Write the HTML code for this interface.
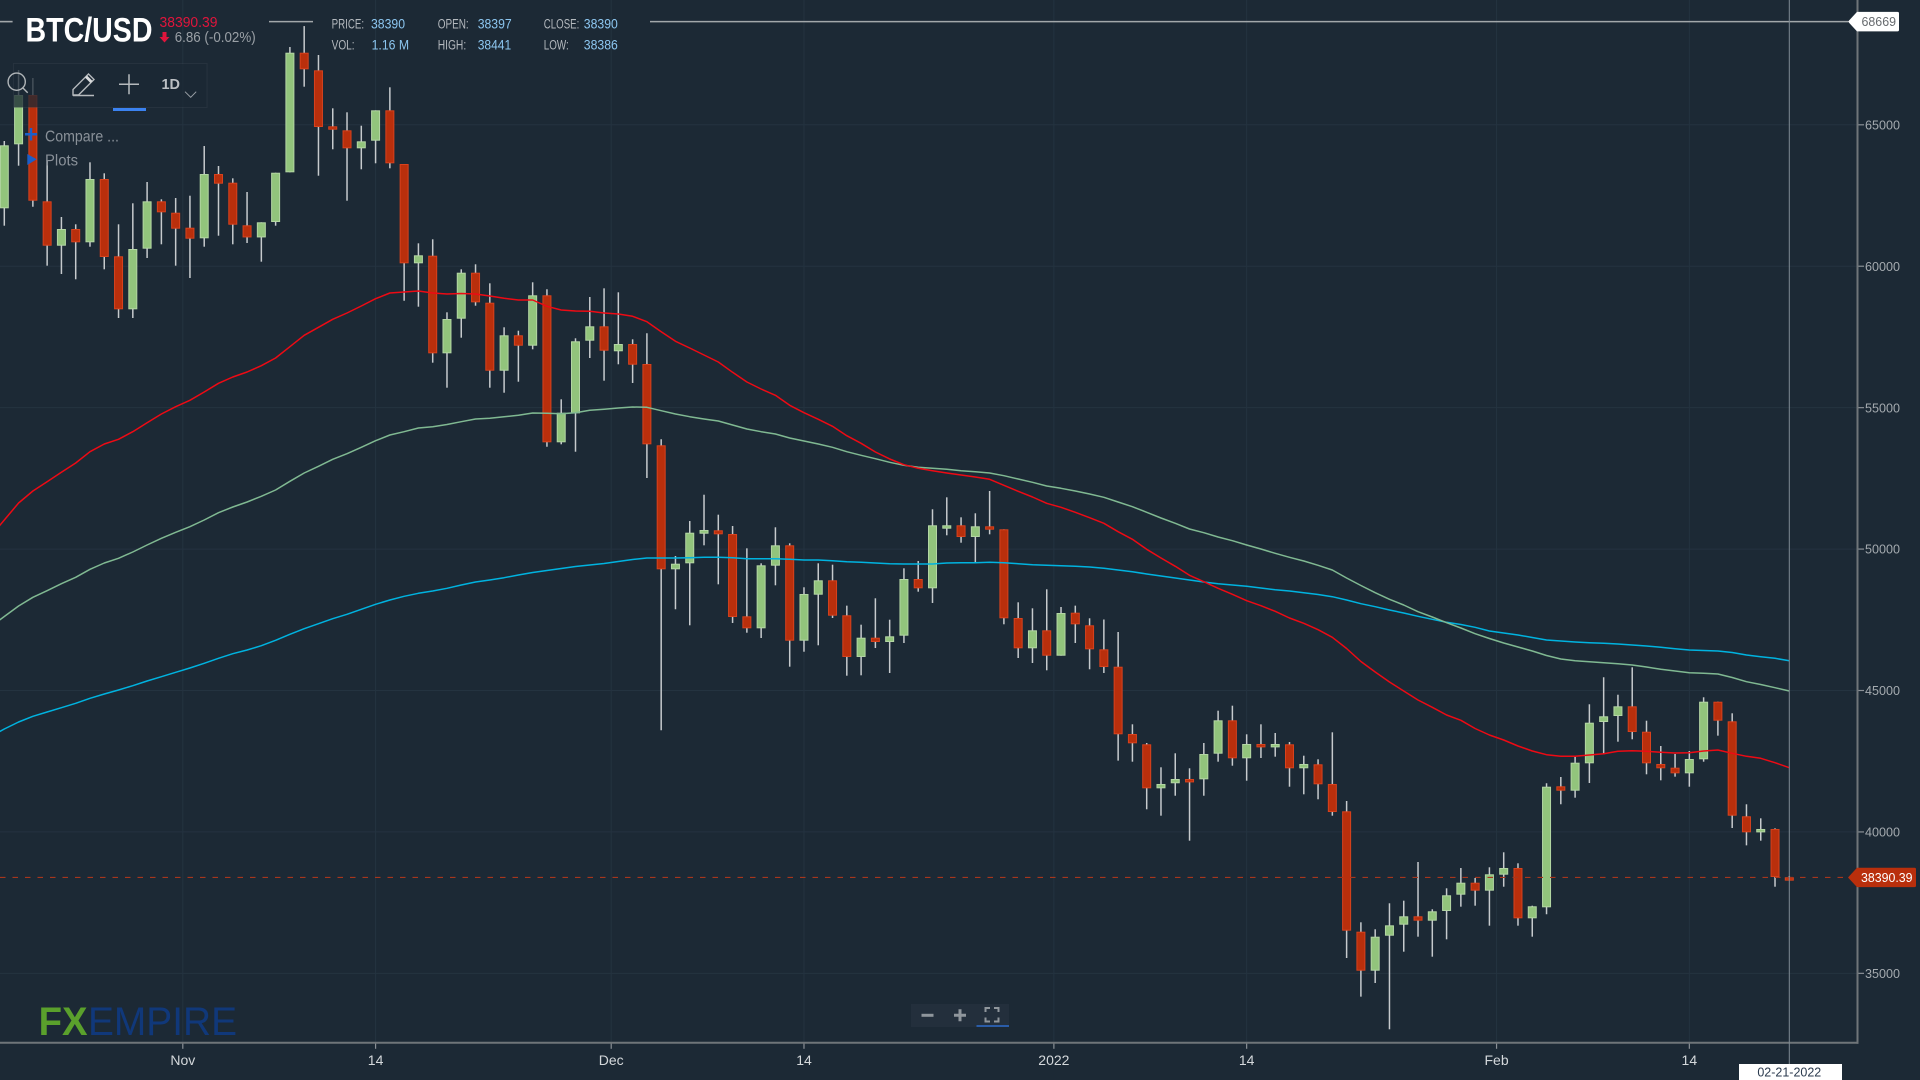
<!DOCTYPE html>
<html lang="en">
<head>
<meta charset="utf-8">
<title>BTC/USD Chart</title>
<style>
html,body{margin:0;padding:0;width:1920px;height:1080px;overflow:hidden;background:#1c2935;}
svg{display:block;position:absolute;left:0;top:0;}
text{font-family:"Liberation Sans",sans-serif;}
</style>
</head>
<body>
<svg id="chart" xmlns="http://www.w3.org/2000/svg" width="1920" height="1080" viewBox="0 0 1920 1080">
  <rect x="0" y="0" width="1920" height="1080" fill="#1c2935"/>
  <g id="grid"></g>
  <g id="high-line"></g>
  <g id="candles"></g>
  <g id="mas"></g>
  <g id="axes"></g>
  <g id="overlay"></g>

  <g>
    <text x="25.5" y="41.5" font-size="34" font-weight="bold" fill="#ffffff" textLength="127" lengthAdjust="spacingAndGlyphs">BTC/USD</text>
    <text x="159.5" y="26.8" font-size="14.5" fill="#e0153c" textLength="58" lengthAdjust="spacingAndGlyphs">38390.39</text>
    <path d="M162.5 32h4v5h3l-5 5.5-5-5.5h3z" fill="#e0153c"/>
    <text x="174.7" y="42" font-size="14.5" fill="#9aa0a6" textLength="81" lengthAdjust="spacingAndGlyphs">6.86 (-0.02%)</text>

    <text x="331.6" y="28.5" font-size="13.5" fill="#b4b9be" textLength="32.5" lengthAdjust="spacingAndGlyphs">PRICE:</text>
    <text x="371" y="28.5" font-size="13.5" fill="#8cc6f0" textLength="34" lengthAdjust="spacingAndGlyphs">38390</text>
    <text x="437.7" y="28.5" font-size="13.5" fill="#b4b9be" textLength="31" lengthAdjust="spacingAndGlyphs">OPEN:</text>
    <text x="477.7" y="28.5" font-size="13.5" fill="#8cc6f0" textLength="34" lengthAdjust="spacingAndGlyphs">38397</text>
    <text x="543.8" y="28.5" font-size="13.5" fill="#b4b9be" textLength="35.5" lengthAdjust="spacingAndGlyphs">CLOSE:</text>
    <text x="583.8" y="28.5" font-size="13.5" fill="#8cc6f0" textLength="34" lengthAdjust="spacingAndGlyphs">38390</text>
    <text x="331.6" y="49.5" font-size="13.5" fill="#b4b9be" textLength="23" lengthAdjust="spacingAndGlyphs">VOL:</text>
    <text x="371.6" y="49.5" font-size="13.5" fill="#8cc6f0" textLength="37.5" lengthAdjust="spacingAndGlyphs">1.16 M</text>
    <text x="437.7" y="49.5" font-size="13.5" fill="#b4b9be" textLength="28.5" lengthAdjust="spacingAndGlyphs">HIGH:</text>
    <text x="477.7" y="49.5" font-size="13.5" fill="#8cc6f0" textLength="33.5" lengthAdjust="spacingAndGlyphs">38441</text>
    <text x="543.8" y="49.5" font-size="13.5" fill="#b4b9be" textLength="25" lengthAdjust="spacingAndGlyphs">LOW:</text>
    <text x="583.8" y="49.5" font-size="13.5" fill="#8cc6f0" textLength="34" lengthAdjust="spacingAndGlyphs">38386</text>
  </g>

  <g>
    <rect x="13.5" y="63.5" width="193.5" height="44" fill="#1c2935" fill-opacity="0.76" stroke="#ffffff" stroke-opacity="0.05"/>
    <g fill="none" stroke="#b0b5b8" stroke-width="1.4">
      <circle cx="16.7" cy="81.7" r="8.6"/>
      <path d="M22.7 87.7l5 5"/>
    </g>
    <g fill="none" stroke="#b6babd" stroke-width="1.4">
      <path d="M73 95v-5.5L88.5 74l5.5 5.5L78.5 95z"/>
      <path d="M86 76.5l5.5 5.5" stroke-width="3" stroke="#d8dadc"/>
      <path d="M73 95.5h21"/>
    </g>
    <g stroke="#b6babd" stroke-width="1.5">
      <path d="M119 84.3h20M129 74.3v20"/>
    </g>
    <rect x="113" y="108" width="33" height="3" fill="#3b82f0"/>
    <text x="161.5" y="89" font-size="15" font-weight="bold" fill="#bcc0c4" textLength="18.5" lengthAdjust="spacingAndGlyphs">1D</text>
    <path d="M185 91.7l5.7 5.6 5.5-5.6" fill="none" stroke="#9aa0a6" stroke-width="1"/>
    <path d="M25 134.3h12M31 128v12.5" stroke="#1c5fc8" stroke-width="2.5"/>
    <text x="45" y="141.5" font-size="15.5" fill="#8a9199" textLength="74" lengthAdjust="spacingAndGlyphs">Compare ...</text>
    <path d="M27.3 154l9.4 5.3-9.4 5.7z" fill="#1c5fc8"/>
    <text x="45" y="165.3" font-size="15.5" fill="#8a9199" textLength="33" lengthAdjust="spacingAndGlyphs">Plots</text>
  </g>

  <g>
    <text x="38.6" y="1035" font-size="40" font-weight="bold" fill="#5aa02c" textLength="49" lengthAdjust="spacingAndGlyphs">FX</text>
    <text x="88" y="1035" font-size="40" fill="#10387a" textLength="149" lengthAdjust="spacingAndGlyphs">EMPIRE</text>
  </g>

  <g>
    <rect x="911" y="1004" width="98" height="23" fill="#232f3c"/>
    <path d="M921.5 1015.3h12" stroke="#8f969c" stroke-width="3"/>
    <path d="M954 1015.3h12M960 1009.3v12" stroke="#8f969c" stroke-width="3"/>
    <path d="M985.5 1012v-4h4.5M994 1008h4.5v4M998.5 1017.5v4H994M990 1021.5h-4.5v-4" fill="none" stroke="#8f969c" stroke-width="2"/>
    <rect x="976.5" y="1025" width="32.5" height="2" fill="#2a5ca8"/>
  </g>
</svg>

<script>
var tickPrices = [35000, 40000, 45000, 50000, 55000, 60000, 65000];
var timeTickLabels = ["Nov", "14", "Dec", "14", "2022", "14", "Feb", "14"];
var timeTickIndex = [12.5, 26, 42.5, 56, 73.5, 87, 104.5, 118];
var allTimeHigh = 68669;
var lastPrice = 38390.39;
var lastPriceText = "38390.39";
var crosshairDate = "02-21-2022";

var candleOpen = [
62048,64310,66053,62295,60725,61316,60846,63084,60351,58477,
60620,62295,61892,61362,60987,63260,62953,61447,61018,61563,
63320,67549,66926,64947,64805,64169,64438,65512,63614,60103,
60372,56921,58145,59771,58710,56306,57558,57190,58972,53775,
54800,57367,57876,56993,57250,56543,53669,49285,49497,50543,
50664,50533,47623,47199,49413,50133,46761,48387,48896,47659,
46185,46867,46715,46938,48942,48613,50734,50841,50427,50805,
50699,47563,46492,47128,46230,47751,47305,46456,45841,43462,
43098,41542,41720,41871,41860,42766,43946,42603,43109,42992,
43098,42250,42391,41695,40729,36473,35094,36331,36720,37017,
36862,37205,37781,38205,37923,38488,38725,36946,37335,41613,
41458,42426,43886,44098,44441,43543,42402,42271,42072,42568,
44604,43911,40553,39987,40104,38397];

var candleHigh = [
64427,66937,66654,63755,61740,61482,63674,63285,61482,62225,
62978,62366,62412,62493,64250,63543,63108,62624,61553,63306,
67750,68490,67468,65583,65442,64968,65512,66326,63614,60810,
60952,58371,59891,60068,59396,57841,57720,59432,59184,55295,
57452,58912,59219,59078,57416,57629,53881,49755,50992,51922,
51216,50816,50027,49497,50770,50204,48649,49497,49448,48000,
47327,48260,47503,49320,49579,51407,51830,51123,51265,52053,
50699,48118,47906,48578,47952,48000,47553,47510,47069,43805,
43144,42285,42780,42250,43144,44286,44463,43451,43805,43498,
43178,42695,42568,43522,41093,36805,36558,37477,37569,38937,
37265,38007,38724,38371,38749,39280,38891,37392,41719,41942,
42660,44513,45468,44851,45820,43932,43038,42755,42861,44760,
44604,44194,40977,40481,40128,38441];

var candleLow = [
61433,63554,62104,60019,59725,59538,60690,59891,58169,58169,
60291,60775,60019,59584,60690,61079,60775,60821,60160,61433,
63320,66347,63200,64134,62316,63427,63639,63462,58781,58569,
56590,55705,57473,58604,55705,55528,55917,57062,53619,53704,
53442,56755,55953,56533,55872,52513,43593,47872,47305,50133,
48754,47387,47043,46856,48719,45842,46371,46598,47563,45523,
45537,46502,45619,46679,48493,48094,50487,50225,49518,50522,
47341,46149,45972,45714,46230,46679,45750,45619,42519,42483,
40800,40574,41280,39690,41280,42483,42341,41811,42614,42660,
41599,41330,41154,40574,35543,34176,34659,33022,35766,36296,
35589,36203,37357,37392,36685,38063,36685,36296,37088,40978,
41210,41730,42744,43190,43275,42037,41825,41953,41599,42483,
43403,40139,39525,39690,38063,38386];

var candleClose = [
64275,66053,62316,60725,61316,60846,63084,60326,58477,60609,
62295,61906,61327,60973,63260,62918,61468,61018,61553,63306,
67549,66962,64922,64827,64169,64416,65512,63639,60103,60386,
56921,58134,59771,58724,56306,57558,57190,58972,53775,54821,
57346,57876,57013,57250,56518,53704,49285,49483,50579,50675,
50522,47599,47199,49426,50133,46761,48412,48896,47645,46185,
46867,46715,46916,48942,48613,50841,50841,50427,50805,50685,
47553,46492,47128,46230,47740,47340,46456,45830,43452,43133,
41542,41695,41871,41754,42755,43946,42603,43109,42992,43109,
42250,42402,41684,40704,36509,35094,36296,36698,37017,36862,
37194,37760,38205,37923,38502,38725,36946,37371,41599,41458,
42448,43862,44088,44441,43533,42426,42250,42072,42578,44604,
43933,40574,39987,40104,38406,38390];

/* Moving averages: first value belongs to the candle just left of the visible range */
var maFirstIndex = -1;
var maFast = [
50427,51028,51629,52053,52382,52714,53043,53443,53715,53881,
54150,54468,54775,55034,55260,55553,55861,56084,56260,56483,
56755,57155,57558,57841,58124,58346,58594,58852,59053,59089,
59124,59053,59018,59036,59018,58947,58866,58806,58806,58583,
58452,58417,58406,58346,58311,58230,58039,57685,57346,57109,
56861,56614,56250,55907,55660,55437,55083,54822,54588,54341,
54008,53740,53432,53184,52983,52855,52771,52690,52619,52548,
52467,52255,52043,51841,51618,51477,51300,51109,50911,50614,
50345,49992,49684,49391,49073,48846,48613,48401,48174,47998,
47800,47563,47376,47149,46881,46485,46025,45654,45301,44982,
44664,44406,44134,43947,43657,43427,43250,43038,42861,42731,
42674,42674,42720,42766,42851,42872,42851,42816,42791,42801,
42861,42897,42780,42674,42603,42448,42271];

var maMedium = [
47245,47616,47988,48295,48528,48776,49002,49285,49508,49674,
49897,50144,50381,50593,50791,51028,51286,51487,51664,51866,
52089,52396,52690,52926,53174,53372,53598,53832,54033,54150,
54280,54326,54404,54503,54599,54623,54680,54730,54811,54800,
54786,54822,54906,54942,54988,55023,55012,54892,54775,54680,
54599,54528,54387,54245,54150,54069,53927,53821,53715,53598,
53443,53315,53195,53068,52962,52891,52855,52820,52771,52735,
52690,52594,52477,52361,52230,52148,52053,51947,51830,51664,
51498,51300,51099,50911,50710,50579,50427,50296,50144,50003,
49851,49709,49578,49426,49260,48977,48712,48458,48224,48023,
47786,47599,47397,47210,47008,46838,46679,46538,46396,46237,
46114,46054,46018,45983,45944,45901,45831,45750,45690,45630,
45608,45584,45460,45312,45212,45099,44982];

var maSlow = [
43356,43639,43887,44088,44240,44392,44548,44725,44876,45018,
45170,45336,45488,45644,45795,45962,46139,46302,46432,46584,
46775,46987,47185,47362,47539,47694,47871,48047,48199,48331,
48436,48518,48613,48730,48836,48907,48988,49083,49172,49242,
49313,49384,49437,49490,49561,49632,49684,49684,49684,49695,
49709,49709,49695,49660,49660,49660,49638,49614,49614,49589,
49554,49533,49508,49483,49472,49472,49472,49508,49518,49518,
49533,49518,49483,49448,49426,49412,49391,49366,49320,49260,
49200,49119,49048,48977,48907,48836,48776,48730,48684,48624,
48564,48518,48458,48394,48316,48199,48068,47962,47846,47740,
47624,47518,47412,47334,47235,47104,47033,46963,46874,46786,
46750,46715,46690,46669,46644,46609,46573,46527,46478,46432,
46414,46397,46344,46256,46196,46139,46054];

var SVGNS = "http://www.w3.org/2000/svg";
function xScale(i){ return 4.3 + 14.28 * i; }
function yScale(v){ return 690.5 - (v - 45000) * 0.028285; }
var plotRight = 1857.5;
var plotBottom = 1042.8;
var priceMarkerX = 1848;

function mk(tag, attrs, parent, txt){
  var el = document.createElementNS(SVGNS, tag);
  for (var k in attrs) { el.setAttribute(k, attrs[k]); }
  if (txt !== undefined) { el.textContent = txt; }
  parent.appendChild(el);
  return el;
}

var gridG = document.getElementById("grid");
var axesG = document.getElementById("axes");
var candlesG = document.getElementById("candles");
var masG = document.getElementById("mas");
var overlayG = document.getElementById("overlay");
var highG = document.getElementById("high-line");

tickPrices.forEach(function(p){
  var y = yScale(p);
  var g = mk("line", {x1:0, x2:plotRight, y1:y, y2:y, stroke:"#243340", "stroke-width":1}, gridG);
  
  
  var t = mk("line", {x1:plotRight, x2:1864, y1:y, y2:y, stroke:"#8a9096", "stroke-width":1.2}, axesG);
  
  
  var l = mk("text", {x:1865, y:y+4.6, "font-size":12.8, fill:"#a4aaaf", textLength:35, lengthAdjust:"spacingAndGlyphs"}, axesG, String(p));
  
  
});

timeTickIndex.forEach(function(idx, n){
  var x = xScale(idx);
  var g = mk("line", {x1:x, x2:x, y1:0, y2:plotBottom, stroke:"#243340", "stroke-width":1}, gridG);
  
  
  var t = mk("line", {x1:x, x2:x, y1:plotBottom, y2:plotBottom+6, stroke:"#8a9096", "stroke-width":1.2}, axesG);
  
  
  var l = mk("text", {x:x, y:1065, "font-size":14, fill:"#d4d8db", "text-anchor":"middle"}, axesG, timeTickLabels[n]);
  
  
});

var yAxis = mk("line", {x1:plotRight, x2:plotRight, y1:0, y2:plotBottom+1, stroke:"#6f7579", "stroke-width":2}, axesG);


var xAxis = mk("line", {x1:0, x2:plotRight+1, y1:plotBottom, y2:plotBottom, stroke:"#6f7579", "stroke-width":2}, axesG);



/* all-time-high line, broken where the header sits */
[[0,12.6],[269,313],[650,priceMarkerX]].forEach(function(seg){
  var s = mk("line", {x1:seg[0], x2:seg[1], y1:yScale(allTimeHigh)+0.6, y2:yScale(allTimeHigh)+0.6, stroke:"#a2a7aa", "stroke-width":1.6}, highG);
  
  
});

/* candles */
candleOpen.forEach(function(o, i){
  var c = candleClose[i], x = xScale(i), up = c >= o;
  var yH = yScale(candleHigh[i]), yL = yScale(candleLow[i]);
  var wick = mk("line", {x1:x, x2:x, y1:yH, y2:yL, stroke:"#c6cacd", "stroke-width":1.5}, candlesG);
  
  
  var top = yScale(Math.max(o, c)), bot = yScale(Math.min(o, c));
  var h = Math.max(bot - top - 1, 2.4);
  var body = mk("rect", {x:x-4, y:top+0.5, width:8, height:h,
    fill: up ? "#92c47c" : "#b92f0c",
    stroke: up ? "#b4d6a4" : "#d8421d", "stroke-width":1}, candlesG);
  
  
});

/* moving averages */
function drawMA(values, color, name){
  var pts = values.map(function(v, k){
    return xScale(maFirstIndex + k).toFixed(1) + "," + yScale(v).toFixed(1);
  }).join(" ");
  var p = mk("polyline", {points:pts, fill:"none", stroke:color, "stroke-width":1.5, "stroke-linejoin":"round"}, masG);
  
  
}
drawMA(maSlow, "#00b3e0", "moving-average-slow");
drawMA(maMedium, "#80b992", "moving-average-medium");
drawMA(maFast, "#ee0a14", "moving-average-fast");

/* last price line & markers */
var lastY = yScale(lastPrice);
var pl = mk("line", {x1:0, x2:priceMarkerX, y1:lastY, y2:lastY, stroke:"#a6361c", "stroke-width":1.2, "stroke-dasharray":"5.5 7"}, overlayG);



var crossX = xScale(candleOpen.length - 1);
var ch = mk("line", {x1:crossX, x2:crossX, y1:0, y2:1064, stroke:"#7f8a93", "stroke-width":1}, overlayG);



var dl = mk("rect", {x:1739, y:1064, width:103, height:16, fill:"#ffffff"}, overlayG);


var dt = mk("text", {x:crossX, y:1076.5, "font-size":12.5, fill:"#2b3a4e", "text-anchor":"middle"}, overlayG, crosshairDate);



function tag(y, x1, x2, h, fill, name){
  var d = "M" + priceMarkerX + " " + y + "L" + x1 + " " + (y-h/2) + "H" + (x2-1.5) + "Q" + x2 + " " + (y-h/2) + " " + x2 + " " + (y-h/2+1.5) +
          "V" + (y+h/2-1.5) + "Q" + x2 + " " + (y+h/2) + " " + (x2-1.5) + " " + (y+h/2) + "H" + x1 + "Z";
  var p = mk("path", {d:d, fill:fill}, overlayG);
  
  
}
var hiY = yScale(allTimeHigh) + 0.6;
tag(hiY, 1857, 1899, 19.4, "#ffffff", "high-price-tag");
var hiT = mk("text", {x:1861.5, y:hiY+4.5, "font-size":12.8, fill:"#666a6e", textLength:34.5, lengthAdjust:"spacingAndGlyphs"}, overlayG, String(allTimeHigh));


tag(lastY, 1857, 1916, 19.4, "#b92f0c", "last-price-tag");
var loT = mk("text", {x:1861, y:lastY+4.5, "font-size":12.8, fill:"#ffffff", textLength:51.5, lengthAdjust:"spacingAndGlyphs"}, overlayG, lastPriceText);


</script>
</body>
</html>
